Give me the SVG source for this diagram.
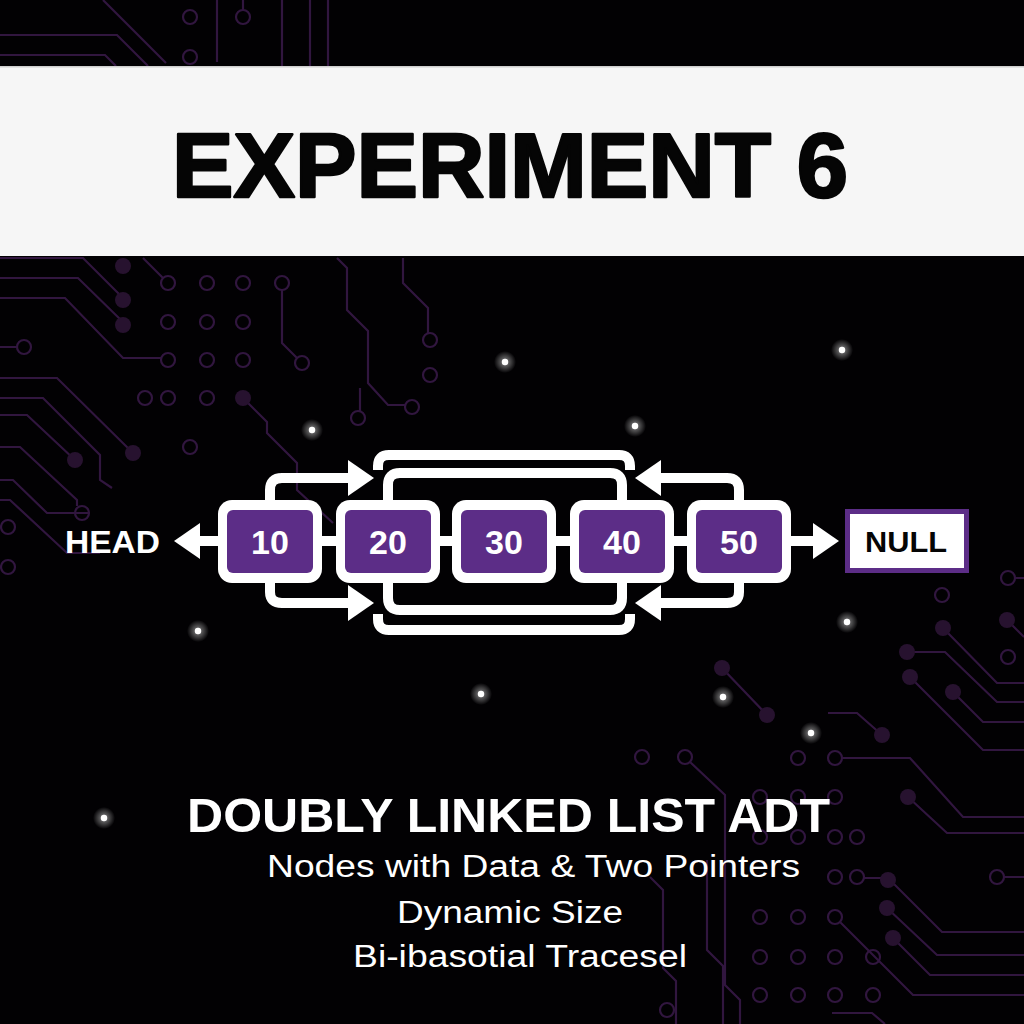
<svg xmlns="http://www.w3.org/2000/svg" width="1024" height="1024" viewBox="0 0 1024 1024">
<defs>
<style>
.tr{fill:none;stroke:#31163f;stroke-width:2.2}
.ho{fill:none;stroke:#31163f;stroke-width:2.2}
.fd{fill:#27122f}
.lnk{fill:none;stroke:#ffffff;stroke-width:10;stroke-linecap:butt;stroke-linejoin:round}
.outer{fill:#ffffff}
.inner{fill:#5c2d87}
.num{font-family:"Liberation Sans",Arial,sans-serif;font-weight:700;font-size:34px;fill:#ffffff;text-anchor:middle}
.lbl{font-family:"Liberation Sans",Arial,sans-serif;font-weight:700;fill:#ffffff}
.sub{font-family:"Liberation Sans",Arial,sans-serif;font-size:31px;fill:#ffffff}
</style>
<radialGradient id="glow">
<stop offset="0" stop-color="#ffffff" stop-opacity="0.9"/>
<stop offset="0.35" stop-color="#ffffff" stop-opacity="0.35"/>
<stop offset="1" stop-color="#ffffff" stop-opacity="0"/>
</radialGradient>
<marker id="ah" viewBox="0 0 26 36" refX="2" refY="18" markerWidth="26" markerHeight="36" markerUnits="userSpaceOnUse" orient="auto">
<path d="M0,0 L26,18 L0,36 Z" fill="#ffffff"/>
</marker>
<g id="star"><circle r="11" fill="url(#glow)"/><circle r="3.2" fill="#ffffff"/></g>
</defs>
<rect width="1024" height="1024" fill="#020103"/>
<g id="circuits">
<path class="tr" d="M0,35 H117 L148,66 M0,55 H105 L116,66 M103,0 L166,63 M217,0 V62 M243,0 V10 M282,0 V66 M310,0 V66 M328,0 V66"/>
<circle class="ho" cx="190" cy="17" r="7"/><circle class="ho" cx="190" cy="57" r="7"/><circle class="ho" cx="243" cy="17" r="7"/>
<path class="tr" d="M0,258 H83 L123,298 M0,278 H78 L123,322 M0,298 H65 L123,358 H161 M143,258 L163,278 M0,347 H17 M282,290 V343 L297,358 M337,258 L347,268 V310 L368,331 V383 L388,405 H405 M403,258 V283 L428,308 V333 M360,388 V411 M243,398 L267,422 V433 L297,463 V490 L333,523 M0,378 H57 L133,453 M0,398 H43 L100,455 V480 L112,488 M0,415 H27 L75,460 M0,447 H20 L77,500 V506 M0,480 H13 L47,513 H90 M0,500 H10 L67,553 H100"/>
<circle class="fd" cx="123" cy="266" r="8"/><circle class="fd" cx="123" cy="300" r="8"/><circle class="fd" cx="123" cy="325" r="8"/>
<circle class="fd" cx="243" cy="398" r="8"/><circle class="fd" cx="133" cy="453" r="8"/><circle class="fd" cx="75" cy="460" r="8"/>
<g class="ho">
<circle cx="168" cy="283" r="7"/><circle cx="207" cy="283" r="7"/><circle cx="243" cy="283" r="7"/><circle cx="282" cy="283" r="7"/>
<circle cx="168" cy="322" r="7"/><circle cx="207" cy="322" r="7"/><circle cx="243" cy="322" r="7"/>
<circle cx="168" cy="360" r="7"/><circle cx="207" cy="360" r="7"/><circle cx="243" cy="360" r="7"/>
<circle cx="145" cy="398" r="7"/><circle cx="168" cy="398" r="7"/><circle cx="207" cy="398" r="7"/>
<circle cx="24" cy="347" r="7"/><circle cx="302" cy="363" r="7"/><circle cx="412" cy="407" r="7"/><circle cx="430" cy="340" r="7"/><circle cx="430" cy="375" r="7"/><circle cx="358" cy="418" r="7"/>
<circle cx="82" cy="513" r="7"/><circle cx="8" cy="527" r="7"/><circle cx="8" cy="567" r="7"/><circle cx="190" cy="447" r="7"/>
</g>
<path class="tr" d="M1015,578 H1024 M1007,620 L1024,637 M943,628 L997,683 H1024 M907,652 H945 L997,702 H1024 M910,677 L983,750 H1024 M953,692 L983,722 H1024 M828,713 H857 L882,735 M722,668 L767,715 M842,758 H910 L963,817 H1024 M908,797 L947,833 H1024 M864,878 H888 L942,932 H1024 M1004,877 H1024 M887,908 L937,955 H1024 M893,938 L930,975 H1024 M840,922 L913,995 H1024 M832,1013 H872 L885,1024 M690,762 L725,795 V985 L740,1000 V1024 M650,877 L663,890 V968 L676,981 V1024 M707,860 V950 L723,966 V1024"/>
<circle class="fd" cx="1007" cy="620" r="8"/><circle class="fd" cx="943" cy="628" r="8"/><circle class="fd" cx="907" cy="652" r="8"/><circle class="fd" cx="910" cy="677" r="8"/><circle class="fd" cx="953" cy="692" r="8"/><circle class="fd" cx="882" cy="735" r="8"/><circle class="fd" cx="722" cy="668" r="8"/><circle class="fd" cx="767" cy="715" r="8"/><circle class="fd" cx="908" cy="797" r="8"/><circle class="fd" cx="888" cy="880" r="8"/><circle class="fd" cx="887" cy="908" r="8"/><circle class="fd" cx="893" cy="938" r="8"/>
<g class="ho">
<circle cx="1008" cy="578" r="7"/><circle cx="942" cy="595" r="7"/><circle cx="1008" cy="657" r="7"/>
<circle cx="642" cy="757" r="7"/><circle cx="685" cy="757" r="7"/><circle cx="798" cy="758" r="7"/><circle cx="835" cy="758" r="7"/>
<circle cx="760" cy="797" r="7"/><circle cx="798" cy="797" r="7"/><circle cx="835" cy="797" r="7"/>
<circle cx="760" cy="837" r="7"/><circle cx="798" cy="837" r="7"/><circle cx="835" cy="837" r="7"/><circle cx="857" cy="837" r="7"/>
<circle cx="835" cy="877" r="7"/><circle cx="857" cy="877" r="7"/><circle cx="997" cy="877" r="7"/>
<circle cx="760" cy="917" r="7"/><circle cx="798" cy="917" r="7"/><circle cx="835" cy="917" r="7"/>
<circle cx="760" cy="957" r="7"/><circle cx="798" cy="957" r="7"/><circle cx="835" cy="957" r="7"/><circle cx="873" cy="957" r="7"/>
<circle cx="760" cy="995" r="7"/><circle cx="798" cy="995" r="7"/><circle cx="835" cy="995" r="7"/><circle cx="873" cy="995" r="7"/>
<circle cx="667" cy="1010" r="7"/>
</g>
</g>
<g id="stars">
<use href="#star" x="505" y="362"/><use href="#star" x="842" y="350"/><use href="#star" x="312" y="430"/><use href="#star" x="635" y="426"/>
<use href="#star" x="198" y="631"/><use href="#star" x="847" y="622"/><use href="#star" x="481" y="694"/><use href="#star" x="723" y="697"/>
<use href="#star" x="811" y="733"/><use href="#star" x="104" y="818"/>
</g>
<g id="header">
<rect x="0" y="66" width="1024" height="190" fill="#f6f6f6"/>
<rect x="0" y="66" width="1024" height="1.5" fill="#cfcfcf"/>
<text x="510" y="197" text-anchor="middle" font-family="'Liberation Sans',Arial,sans-serif" font-weight="700" font-size="90" fill="#050505" stroke="#050505" stroke-width="2.5" stroke-linejoin="round" textLength="676" lengthAdjust="spacingAndGlyphs">EXPERIMENT 6</text>
</g>
<g id="connectors">
<path class="lnk" d="M300,541 H700"/>
<path class="lnk" d="M218,541 H198" marker-end="url(#ah)"/>
<path class="lnk" d="M790,541 H815" marker-end="url(#ah)"/>
<path class="lnk" d="M270,500 V490 Q270,478 282,478 H350" marker-end="url(#ah)"/>
<path class="lnk" d="M739,500 V490 Q739,478 727,478 H659" marker-end="url(#ah)"/>
<path class="lnk" d="M270,583 V592 Q270,603 282,603 H350" marker-end="url(#ah)"/>
<path class="lnk" d="M739,583 V592 Q739,603 727,603 H659" marker-end="url(#ah)"/>
<path class="lnk" d="M388,500 V485 Q388,473 400,473 H610 Q622,473 622,485 V500"/>
<path class="lnk" d="M388,583 V598 Q388,610 400,610 H610 Q622,610 622,598 V583"/>
<path class="lnk" d="M378,470 V466 Q378,455 389,455 H619 Q630,455 630,466 V470"/>
<path class="lnk" d="M378,614 V619 Q378,630 389,630 H619 Q630,630 630,619 V614"/>
</g>
<g id="node-head">
<text class="lbl" x="65" y="553" font-size="32" textLength="95" lengthAdjust="spacingAndGlyphs">HEAD</text>
</g>
<g id="node-10">
<rect class="outer" x="218" y="500" width="104" height="83" rx="14"/>
<rect class="inner" x="227" y="510" width="86" height="63" rx="6"/>
<text class="num" x="270" y="554">10</text>
</g>
<g id="node-20">
<rect class="outer" x="336" y="500" width="104" height="83" rx="14"/>
<rect class="inner" x="345" y="510" width="86" height="63" rx="6"/>
<text class="num" x="388" y="554">20</text>
</g>
<g id="node-30">
<rect class="outer" x="452" y="500" width="104" height="83" rx="14"/>
<rect class="inner" x="461" y="510" width="86" height="63" rx="6"/>
<text class="num" x="504" y="554">30</text>
</g>
<g id="node-40">
<rect class="outer" x="570" y="500" width="104" height="83" rx="14"/>
<rect class="inner" x="579" y="510" width="86" height="63" rx="6"/>
<text class="num" x="622" y="554">40</text>
</g>
<g id="node-50">
<rect class="outer" x="687" y="500" width="104" height="83" rx="14"/>
<rect class="inner" x="696" y="510" width="86" height="63" rx="6"/>
<text class="num" x="739" y="554">50</text>
</g>
<g id="node-null">
<rect x="847.5" y="511.5" width="119" height="59" fill="#ffffff" stroke="#5c2d87" stroke-width="5"/>
<text x="906" y="552" text-anchor="middle" font-family="'Liberation Sans',Arial,sans-serif" font-weight="700" font-size="30" fill="#050505" textLength="82" lengthAdjust="spacingAndGlyphs">NULL</text>
</g>
<g id="caption">
<text class="lbl" x="187" y="832" font-size="48" textLength="643" lengthAdjust="spacingAndGlyphs">DOUBLY LINKED LIST ADT</text>
<text class="sub" x="267" y="877" textLength="533" lengthAdjust="spacingAndGlyphs">Nodes with Data &amp; Two Pointers</text>
<text class="sub" x="397" y="923" textLength="226" lengthAdjust="spacingAndGlyphs">Dynamic Size</text>
<text class="sub" x="353" y="967" textLength="334" lengthAdjust="spacingAndGlyphs">Bi-ibasotial Tracesel</text>
</g>
</svg>
